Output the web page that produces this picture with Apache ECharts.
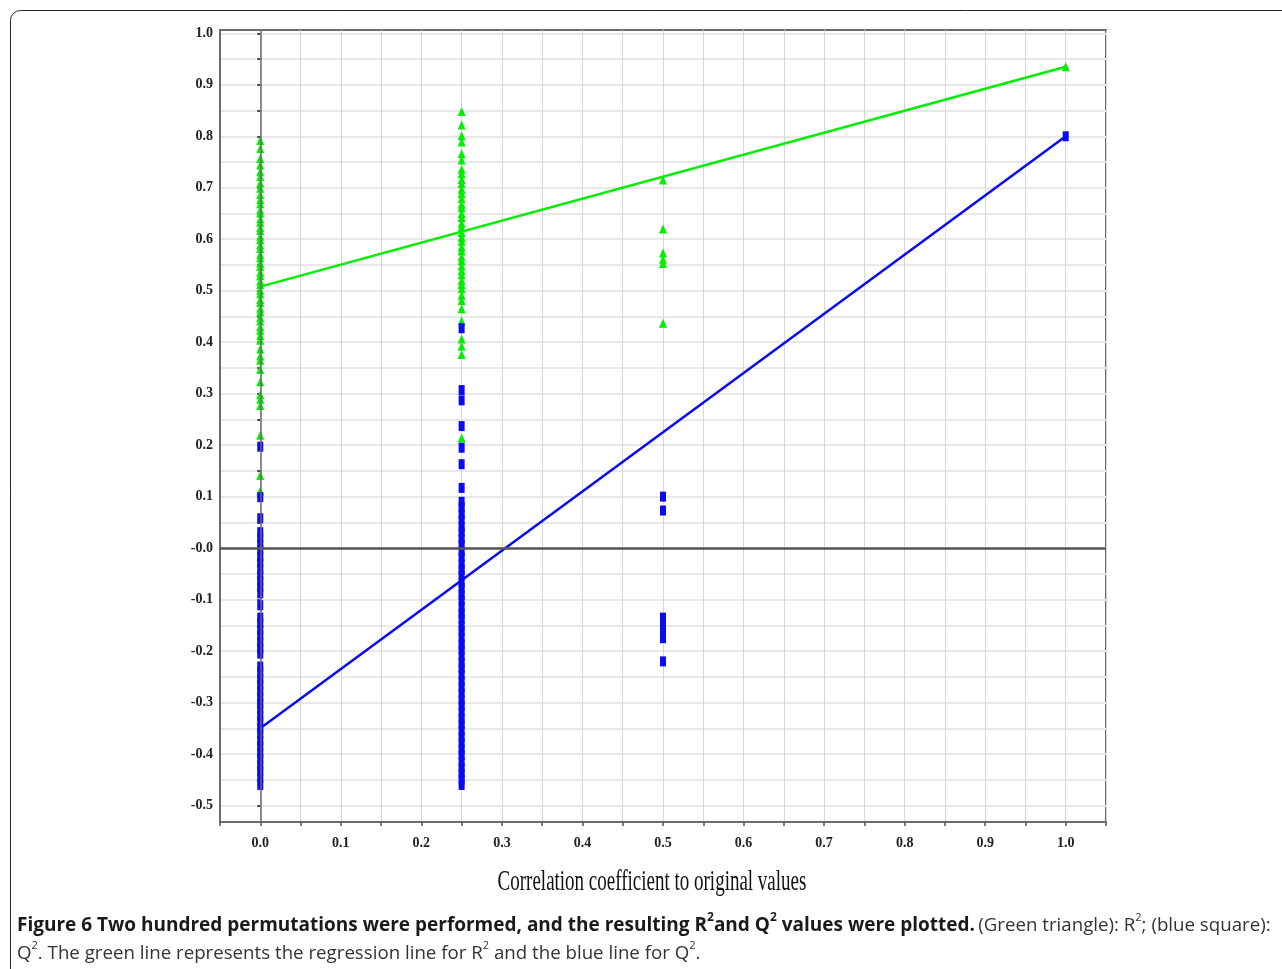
<!DOCTYPE html>
<html>
<head>
<meta charset="utf-8">
<title>Permutation test R2 / Q2</title>
<script src="https://cdn.jsdelivr.net/npm/echarts@6/dist/echarts.min.js"></script>
<style>
  html, body { margin: 0; padding: 0; background: #fff; }
  #chart { width: 1282px; height: 969px; }
</style>
</head>
<body>
<div id="chart"></div>
<script>
// correlation of permuted y to original y, one group per value
const corrGroups = [0.0, 0.25, 0.5, 1.0];

// R2 values (green triangles), per group
const r2At0 = [0.792, 0.776, 0.757, 0.744, 0.731, 0.722, 0.709, 0.699, 0.687, 0.677, 0.669, 0.657,
  0.651, 0.64, 0.633, 0.623, 0.617, 0.606, 0.599, 0.589, 0.582, 0.571, 0.564, 0.554, 0.547, 0.536,
  0.529, 0.519, 0.512, 0.501, 0.494, 0.483, 0.477, 0.466, 0.459, 0.448, 0.441, 0.43, 0.423, 0.413,
  0.404, 0.387, 0.373, 0.365, 0.347, 0.323, 0.298, 0.289, 0.277, 0.219, 0.141, 0.111];
const r2At025 = [0.848, 0.822, 0.801, 0.789, 0.766, 0.754, 0.736, 0.727, 0.716, 0.708, 0.697, 0.689,
  0.679, 0.668, 0.661, 0.65, 0.642, 0.631, 0.623, 0.613, 0.604, 0.596, 0.585, 0.577, 0.566, 0.558,
  0.548, 0.539, 0.531, 0.52, 0.512, 0.504, 0.491, 0.481, 0.465, 0.441, 0.406, 0.392, 0.376, 0.214];
const r2At05 = [0.715, 0.62, 0.573, 0.561, 0.553, 0.437];
const r2At1 = [0.935];

// Q2 values (blue squares), per group
const q2At0 = [0.197, 0.099, 0.058, 0.031, 0.02, 0.007, -0.004, -0.017, -0.028, -0.041, -0.053,
  -0.064, -0.076, -0.088, -0.111, -0.135, -0.146, -0.159, -0.17, -0.183, -0.194, -0.205, -0.23,
  -0.241, -0.254, -0.265, -0.278, -0.289, -0.302, -0.313, -0.326, -0.337, -0.35, -0.361, -0.374,
  -0.385, -0.398, -0.409, -0.422, -0.433, -0.446, -0.46];
const q2At025 = [0.427, 0.307, 0.287, 0.237, 0.195, 0.163, 0.117, 0.09, 0.079, 0.066, 0.055, 0.041,
  0.031, 0.018, 0.007, -0.006, -0.017, -0.031, -0.042, -0.053, -0.067, -0.078, -0.091, -0.101,
  -0.114, -0.127, -0.137, -0.151, -0.161, -0.174, -0.187, -0.197, -0.21, -0.223, -0.233, -0.246,
  -0.259, -0.27, -0.282, -0.295, -0.306, -0.318, -0.331, -0.342, -0.355, -0.367, -0.378, -0.391,
  -0.402, -0.415, -0.427, -0.438, -0.45, -0.46];
const q2At05 = [0.1, 0.073, -0.135, -0.148, -0.162, -0.175, -0.22];
const q2At1 = [0.8];

// regression lines (intercept at 0, value at 1.0)
const r2Line = [[0, 0.508], [1.0, 0.935]];
const q2Line = [[0, -0.35], [1.0, 0.80]];

const r2Groups = [r2At0, r2At025, r2At05, r2At1];
const q2Groups = [q2At0, q2At025, q2At05, q2At1];

function toPoints(groups) {
  const pts = [];
  groups.forEach((vals, i) => {
    vals.forEach(v => pts.push([corrGroups[i], v]));
  });
  return pts;
}

const chart = echarts.init(document.getElementById('chart'));

const tickFont = {
  fontFamily: '"Liberation Serif", serif',
  fontWeight: 'bold',
  fontSize: 14,
  color: '#222'
};

const option = {
  animation: false,
  backgroundColor: '#fff',
  grid: [
    // frame grid: carries data, frame and vertical grid lines
    { left: 220, right: 176, top: 30, bottom: 147, show: true, borderColor: '#6c6c6c', borderWidth: 2, backgroundColor: 'transparent' },
    // label grid: -0.5 .. 1.0 range for horizontal grid lines and y labels
    { left: 220, right: 176, top: 33.3, bottom: 163.5 }
  ],
  xAxis: [
    {
      gridIndex: 0, type: 'value', min: -0.05, max: 1.05, interval: 0.05,
      axisLine: { show: true, onZero: false, lineStyle: { color: '#6c6c6c', width: 2 } },
      axisTick: { show: true, length: 4, lineStyle: { color: '#555', width: 1.5 } },
      axisLabel: {
        ...tickFont, margin: 14,
        formatter: v => (v > -0.001 && v < 1.001 && Math.abs(v * 10 - Math.round(v * 10)) < 1e-6) ? v.toFixed(1) : ''
      },
      splitLine: { show: true, lineStyle: { color: '#d6d6d6', width: 1 } }
    },
    { gridIndex: 1, type: 'value', min: -0.05, max: 1.05, show: false }
  ],
  yAxis: [
    {
      gridIndex: 0, type: 'value', min: -0.532, max: 1.0064,
      axisLine: { show: true, onZero: false, lineStyle: { color: '#6c6c6c', width: 2 } },
      axisTick: { show: false }, axisLabel: { show: false }, splitLine: { show: false }
    },
    {
      gridIndex: 1, type: 'value', min: -0.5, max: 1.0, interval: 0.05,
      axisLine: { show: false },
      axisTick: { show: true, length: 3, lineStyle: { color: '#444', width: 2 } },
      axisLabel: {
        ...tickFont, margin: 7,
        formatter: v => {
          if (Math.abs(v * 10 - Math.round(v * 10)) > 1e-6) return '';
          if (Math.abs(v) < 1e-6) return '-0.0';
          return v.toFixed(1);
        }
      },
      splitLine: { show: true, lineStyle: { color: '#e8e8e8', width: 2 } }
    }
  ],
  series: [
    {
      // reference lines at x = 0 and y = 0
      type: 'line', xAxisIndex: 0, yAxisIndex: 0, data: [], z: 1, silent: true,
      markLine: {
        symbol: ['none', 'none'], silent: true, label: { show: false },
        data: [
          { yAxis: 0, lineStyle: { color: '#555', width: 2.5, type: 'solid' } },
          { xAxis: 0, lineStyle: { color: '#6a6a6a', width: 1.5, type: 'solid' } }
        ]
      }
    },
    {
      name: 'R2', type: 'scatter', xAxisIndex: 0, yAxisIndex: 0,
      symbol: 'triangle', symbolSize: [8, 9],
      itemStyle: { color: '#00ee00', opacity: 1 },
      data: toPoints(r2Groups), z: 2
    },
    {
      name: 'Q2', type: 'scatter', xAxisIndex: 0, yAxisIndex: 0,
      symbol: 'rect', symbolSize: [6, 10],
      itemStyle: { color: '#0a0af5', opacity: 1 },
      data: toPoints(q2Groups), z: 2
    },
    {
      name: 'R2 regression', type: 'line', xAxisIndex: 0, yAxisIndex: 0,
      data: r2Line, symbol: 'none', z: 3,
      lineStyle: { color: '#00ee00', width: 2.5 }
    },
    {
      name: 'Q2 regression', type: 'line', xAxisIndex: 0, yAxisIndex: 0,
      data: q2Line, symbol: 'none', z: 3,
      lineStyle: { color: '#0a0af5', width: 2.5 }
    }
  ],
  graphic: [
    {
      type: 'rect', silent: true,
      shape: { x: 10.5, y: 10.5, width: 1300, height: 1000, r: 10 },
      style: { fill: 'none', stroke: '#222', lineWidth: 1 }
    },
    {
      type: 'text', silent: true, x: 652, y: 882, scaleY: 1.55,
      style: {
        text: 'Correlation coefficient to original values',
        font: '19px "Liberation Serif"', fill: '#111',
        align: 'center', verticalAlign: 'middle'
      }
    },
    {
      type: 'text', silent: true, x: 17, y: 912,
      style: {
        text: '{b|Figure 6 Two hundred permutations were performed, and the resulting R}{bs|2}{b|and Q}{bs|2}{b| values were plotted.} ' +
              '{n|(Green triangle): R}{ns|2}{n|; (blue square):}\n' +
              '{n|Q}{ns|2}{n|. The green line represents the regression line for R}{ns|2}{n| and the blue line for Q}{ns|2}{n|.}',
        verticalAlign: 'top',
        rich: {
          b: { fontFamily: '"Open Sans"', fontWeight: 'bold', fontSize: 19, lineHeight: 28, fill: '#1a1a1a' },
          bs: { fontFamily: '"Open Sans"', fontWeight: 'bold', fontSize: 12, lineHeight: 18, verticalAlign: 'top', fill: '#1a1a1a' },
          n: { fontFamily: '"Open Sans"', fontSize: 18.7, lineHeight: 28, fill: '#333' },
          ns: { fontFamily: '"Open Sans"', fontSize: 11, lineHeight: 18, verticalAlign: 'top', fill: '#333' }
        }
      }
    }
  ]
};

chart.setOption(option);
</script>
</body>
</html>
